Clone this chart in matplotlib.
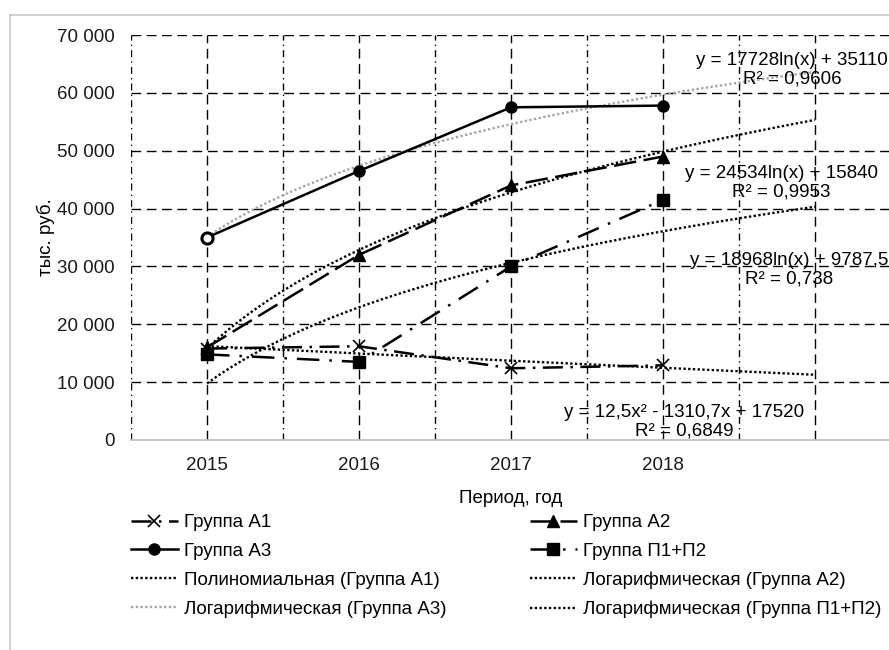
import matplotlib
matplotlib.use("Agg")
import matplotlib.pyplot as plt
import numpy as np
from matplotlib.ticker import FuncFormatter, FixedLocator
from matplotlib.lines import Line2D

plt.rcParams['font.family'] = ['Liberation Sans', 'DejaVu Sans']
plt.rcParams['font.size'] = 13.5

# Data (thousand rubles)
years = ['2015', '2016', '2017', '2018']
group_a1 = [15800, 16200, 12400, 12900]
group_a2 = [16000, 32000, 44000, 49000]
group_a3 = [35000, 46500, 57500, 57800]
group_p = [14800, 13500, 30000, 41500]

# Trendline coefficients (Excel, x = 1..n)
poly_a1 = [12.5, -1310.7, 17520]
log_a2 = [24534, 15840]
log_a3 = [17728, 35110]
log_p = [18968, 9787.5]

eq_a1 = 'y = 12,5x² - 1310,7x + 17520\nR² = 0,6849'
eq_a2 = 'y = 24534ln(x) + 15840\nR² = 0,9953'
eq_a3 = 'y = 17728ln(x) + 35110\nR² = 0,9606'
eq_p = 'y = 18968ln(x) + 9787,5\nR² = 0,738'

x = np.arange(1, len(years) + 1)
xt = np.linspace(1, 5, 200)   # trendlines forecast one period ahead

fig = plt.figure(figsize=(8.89, 6.5), dpi=100)
ax = fig.add_axes([131 / 889, 1 - 440 / 650, 760 / 889, 405 / 650])

# grid
for v in range(10000, 70001, 10000):
    ax.axhline(v, color='black', lw=1.0, ls=(0, (7, 4)), zorder=1)
for c in range(1, 6):
    ax.axvline(c, color='black', lw=1.0, ls=(0, (7, 4)), zorder=1)
for b in np.arange(0.5, 6, 1.0):
    ax.axvline(b, color='black', lw=1.0, ls=(0, (5, 3, 1, 3)), zorder=1)

# trendlines
ax.plot(xt, np.polyval(poly_a1, xt), color='black', lw=1.7, ls=(0, (1, 1)), zorder=2,
        label='Полиномиальная (Группа А1)')
ax.plot(xt, log_a2[0] * np.log(xt) + log_a2[1], color='black', lw=1.7, ls=(0, (1, 1)), zorder=2,
        label='Логарифмическая (Группа А2)')
ax.plot(xt, log_a3[0] * np.log(xt) + log_a3[1], color='#a6a6a6', lw=1.7, ls=(0, (1, 1)), zorder=2,
        label='Логарифмическая (Группа А3)')
ax.plot(xt, log_p[0] * np.log(xt) + log_p[1], color='black', lw=1.7, ls=(0, (1, 1)), zorder=2,
        label='Логарифмическая (Группа П1+П2)')

# series
ax.plot(x, group_a1, color='black', lw=1.8, ls=(0, (8, 3, 1, 3)), marker='x', ms=8, mew=1.2,
        zorder=3, label='Группа А1')
ax.plot(x, group_a2, color='black', lw=1.8, ls=(0, (9, 3)), marker='^', ms=9,
        zorder=3, label='Группа А2')
ax.plot(x, group_a3, color='black', lw=1.8, ls='-', marker='o', ms=8,
        zorder=3, label='Группа А3')
ax.plot(x[:1], group_a3[:1], ls='none', marker='o', ms=8, mfc='white', mec='black', mew=2.2, zorder=3)
ax.plot(x, group_p, color='black', lw=1.8, ls=(0, (9, 4, 1, 4)), marker='s', ms=8,
        zorder=3, label='Группа П1+П2')

# trendline equations
lbl = dict(ha='center', va='center', fontsize=13.5, linespacing=1.15, zorder=4)
ax.text(4.85, 63950, eq_a3, **lbl)
ax.text(4.78, 44420, eq_a2, **lbl)
ax.text(4.83, 29380, eq_p, **lbl)
ax.text(4.14, 3111, eq_a1, **lbl)

ax.set_xlim(0.5, 5.5)
ax.set_ylim(0, 70000)
ax.xaxis.set_major_locator(FixedLocator([1, 2, 3, 4, 5]))
ax.set_xticklabels(years + [''])
ax.set_yticks(range(0, 70001, 10000))
ax.yaxis.set_major_formatter(FuncFormatter(lambda v, p: f'{int(v):,}'.replace(',', ' ')))
ax.tick_params(axis='both', length=0, colors='#1a1a1a', labelsize=13.5)
ax.tick_params(axis='y', pad=12)
ax.tick_params(axis='x', pad=12)
for s in ['top', 'right', 'left']:
    ax.spines[s].set_visible(False)
ax.spines['bottom'].set_color('#bfbfbf')
ax.spines['bottom'].set_linewidth(1.3)

ax.set_xlabel('Период, год', fontsize=13.5, labelpad=12)
ax.set_ylabel('тыс. руб.', fontsize=13.5, labelpad=1)

# legend in two columns
h, l = ax.get_legend_handles_labels()
d = dict(zip(l, h))
col1 = ['Группа А1', 'Группа А3', 'Полиномиальная (Группа А1)', 'Логарифмическая (Группа А3)']
col2 = ['Группа А2', 'Группа П1+П2', 'Логарифмическая (Группа А2)', 'Логарифмическая (Группа П1+П2)']
leg_kw = dict(loc='upper left', frameon=False, borderpad=0, borderaxespad=0,
              handlelength=2.5, handletextpad=0.35, labelspacing=0.62, fontsize=13.5)
fig.legend([d[k] for k in col1], col1, bbox_to_anchor=(131 / 889, 1 - 514 / 650), **leg_kw)
fig.legend([d[k] for k in col2], col2, bbox_to_anchor=(530 / 889, 1 - 514 / 650), **leg_kw)

# outer frame
fig.add_artist(Line2D([10 / 889, 1], [1 - 15 / 650] * 2, color='#c8c8c8', lw=1.2))
fig.add_artist(Line2D([10 / 889] * 2, [0, 1 - 15 / 650], color='#c8c8c8', lw=1.2))

fig.savefig('out.png', dpi=100)
